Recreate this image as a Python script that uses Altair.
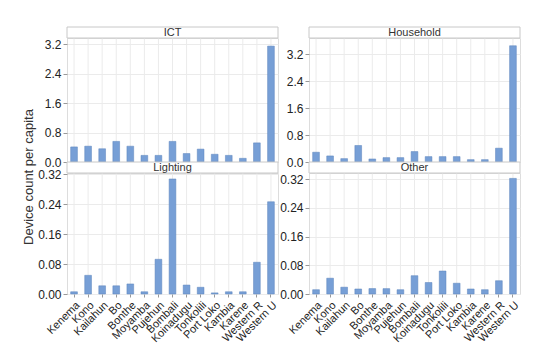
import altair as alt
import pandas as pd

districts = ["Kenema", "Kono", "Kailahun", "Bo", "Bonthe", "Moyamba", "Pujehun",
             "Bombali", "Koinadugu", "Tonkolili", "Port Loko", "Kambia", "Karene",
             "Western R", "Western U"]
ict = [0.41, 0.43, 0.36, 0.56, 0.43, 0.18, 0.18, 0.56, 0.23, 0.35, 0.21, 0.18, 0.10, 0.52, 3.15]
household = [0.29, 0.18, 0.10, 0.49, 0.09, 0.13, 0.13, 0.31, 0.16, 0.16, 0.16, 0.07, 0.07, 0.41, 3.45]
lighting = [0.006, 0.050, 0.022, 0.022, 0.027, 0.006, 0.093, 0.308, 0.024, 0.018, 0.003, 0.006, 0.006, 0.085, 0.247]
other = [0.012, 0.044, 0.019, 0.014, 0.015, 0.015, 0.012, 0.051, 0.032, 0.064, 0.030, 0.014, 0.012, 0.037, 0.322]

panel_names = ["ICT", "Household", "Lighting", "Other"]
y_max = [3.37, 3.68, 0.324, 0.337]
ticks_top = [0.0, 0.8, 1.6, 2.4, 3.2]
ticks_bottom = [0.0, 0.08, 0.16, 0.24, 0.32]
y_title = "Device count per capita"

FONT = "Liberation Sans"
W = 211
STRIP = 11
EXT = 28
BAR = "#779fd6"
GRID = "#ebebeb"
BORDER = "#c8c8c8"


def panel(name, values, ymax, ticks, fmt, show_x, height):
    df = pd.DataFrame({"district": districts, "value": values})
    xscale = alt.Scale(domain=districts, paddingInner=0.52, paddingOuter=0.26)
    if show_x:
        xaxis = alt.Axis(labelAngle=-45, labelFont=FONT, labelFontSize=11,
                         labelColor="#222222", grid=False,
                         bandPosition=0.5, tickSize=3, tickColor="#999999",
                         domain=False, title=None, labelPadding=2)
    else:
        xaxis = None
    yaxis = alt.Axis(values=ticks, format=fmt, labelFont=FONT,
                     labelFontSize=12, labelColor="#222222",
                     grid=True, gridColor=GRID, tickSize=4,
                     tickColor="#999999", domain=False, title=None,
                     labelPadding=2, minExtent=EXT, maxExtent=EXT)
    yscale = alt.Scale(domain=[0, ymax], nice=False, zero=True)
    vgrid = alt.Chart(df).mark_rule(color=GRID, strokeWidth=1).encode(
        x=alt.X("district:N", sort=districts, scale=xscale, axis=xaxis,
                bandPosition=0.5),
    )
    bars = alt.Chart(df).mark_bar(
        color=BAR, stroke="#5d84bd", strokeWidth=0.5
    ).encode(
        x=alt.X("district:N", sort=districts, scale=xscale, axis=xaxis),
        y=alt.Y("value:Q", scale=yscale, axis=yaxis),
    )
    box = alt.Chart(df).mark_rect(
        fill="white", stroke=BORDER, strokeWidth=1, clip=False
    ).encode(
        x=alt.value(0), x2=alt.value(W), y=alt.value(-STRIP), y2=alt.value(0)
    ).transform_filter(alt.datum.district == districts[0])
    label = alt.Chart(df).mark_text(
        font=FONT, fontSize=11, color="#333333", baseline="middle",
        align="center", clip=False
    ).encode(
        x=alt.value(W / 2), y=alt.value(-STRIP / 2 + 0.5), text=alt.value(name)
    ).transform_filter(alt.datum.district == districts[0])
    return alt.layer(vgrid, bars, box, label).properties(width=W, height=height)


series = [ict, household, lighting, other]
cols = []
for c in range(2):
    top = c
    bot = c + 2
    col = alt.vconcat(
        panel(panel_names[top], series[top], y_max[top], ticks_top, ".1f", False, 124),
        panel(panel_names[bot], series[bot], y_max[bot], ticks_bottom, ".2f", True, 121),
        spacing=STRIP, bounds="flush",
    )
    cols.append(col)

title_chart = alt.Chart(pd.DataFrame({"t": [y_title]})).mark_text(
    font=FONT, fontSize=13, color="#333333", angle=270,
    align="center", baseline="middle"
).encode(
    text="t:N", x=alt.value(7), y=alt.value(139)
).properties(width=14, height=268, view=alt.ViewBackground(stroke="transparent"))

chart = alt.hconcat(title_chart, cols[0], cols[1], spacing=0).properties(
    padding={"left": 13, "top": 18, "right": 5, "bottom": 5}
).configure_view(stroke=BORDER, strokeWidth=1).configure(background="white")

chart.save("out.html", embed_options={"renderer": "svg", "actions": False})
